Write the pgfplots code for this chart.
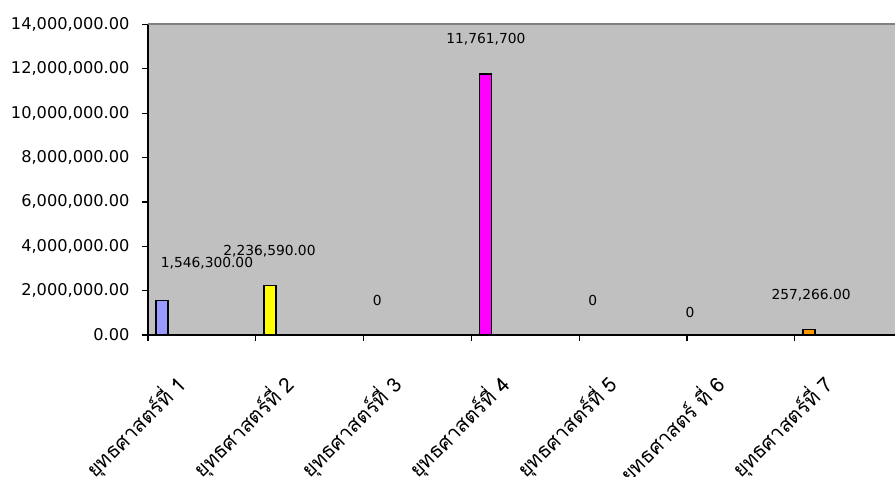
\documentclass[border=0pt]{standalone}
\usepackage{fontspec}
\setmainfont{DejaVu Sans}
\newfontfamily\thaifont[Script=Thai]{Loma}
\usepackage{pgfplots}
\pgfplotsset{compat=1.18}
\definecolor{plotbg}{HTML}{C0C0C0}
\definecolor{bara}{HTML}{9999FF}
\definecolor{barb}{HTML}{FFFF00}
\definecolor{bard}{HTML}{FF00FF}
\definecolor{barg}{HTML}{FF9900}
\begin{document}
\begin{tikzpicture}
\useasboundingbox (-148bp,-142bp) rectangle (747bp,335bp);
\begin{axis}[
  scale only axis,
  width=747bp, height=310.5bp,
  xmin=0, xmax=6.93, ymin=0, ymax=14000000,
  axis lines=left,
  axis line style={-, line width=1.5bp, black},
  axis background/.style={fill=plotbg},
  tick align=outside,
  major tick length=6bp,
  tick style={line width=1.2bp, black},
  xtick={0,1,2,3,4,5,6},
  xticklabels={{ยุทธศาสตร์ที่ 1},{ยุทธศาสตร์ที่ 2},{ยุทธศาสตร์ที่ 3},{ยุทธศาสตร์ที่ 4},{ยุทธศาสตร์ที่ 5},{ยุทธศาสตร์ ที่ 6},{ยุทธศาสตร์ที่ 7}},
  xticklabel style={font=\thaifont\fontsize{20.5bp}{24bp}\selectfont, xshift=25bp, yshift=-30bp, rotate=45, anchor=north east, inner sep=0pt},
  ytick={0,2000000,4000000,6000000,8000000,10000000,12000000,14000000},
  scaled y ticks=false,
  yticklabel style={font=\fontsize{16.2bp}{19bp}\selectfont, xshift=-9bp, /pgf/number format/.cd, fixed, fixed zerofill, precision=2, 1000 sep={,}, assume math mode=true},
  clip=false,
]
\addplot[ybar, bar width=12bp, fill=bara, draw=black, line width=1.5bp] coordinates {(0.13,1546300)};
\addplot[ybar, bar width=12bp, fill=barb, draw=black, line width=1.5bp] coordinates {(1.13,2236590)};
\addplot[ybar, bar width=12bp, fill=bard, draw=black, line width=1.5bp] coordinates {(3.13,11761700)};
\addplot[ybar, bar width=12bp, fill=barg, draw=black, line width=1.5bp] coordinates {(6.13,257266)};
\draw[line width=2bp, color=gray] (rel axis cs:0,1) -- (rel axis cs:1,1);
\begin{scope}[every node/.style={font=\fontsize{13.8bp}{16bp}\selectfont, inner sep=0pt}]
\node at (axis cs:0.547,3246000) {1,546,300.00};
\node at (axis cs:1.127,3787000) {2,236,590.00};
\node at (axis cs:2.127,1547000) {0};
\node at (axis cs:3.135,13350000) {11,761,700};
\node at (axis cs:4.125,1547000) {0};
\node at (axis cs:5.028,1006000) {0};
\node at (axis cs:6.152,1804000) {257,266.00};
\end{scope}
\end{axis}
\end{tikzpicture}
\end{document}
